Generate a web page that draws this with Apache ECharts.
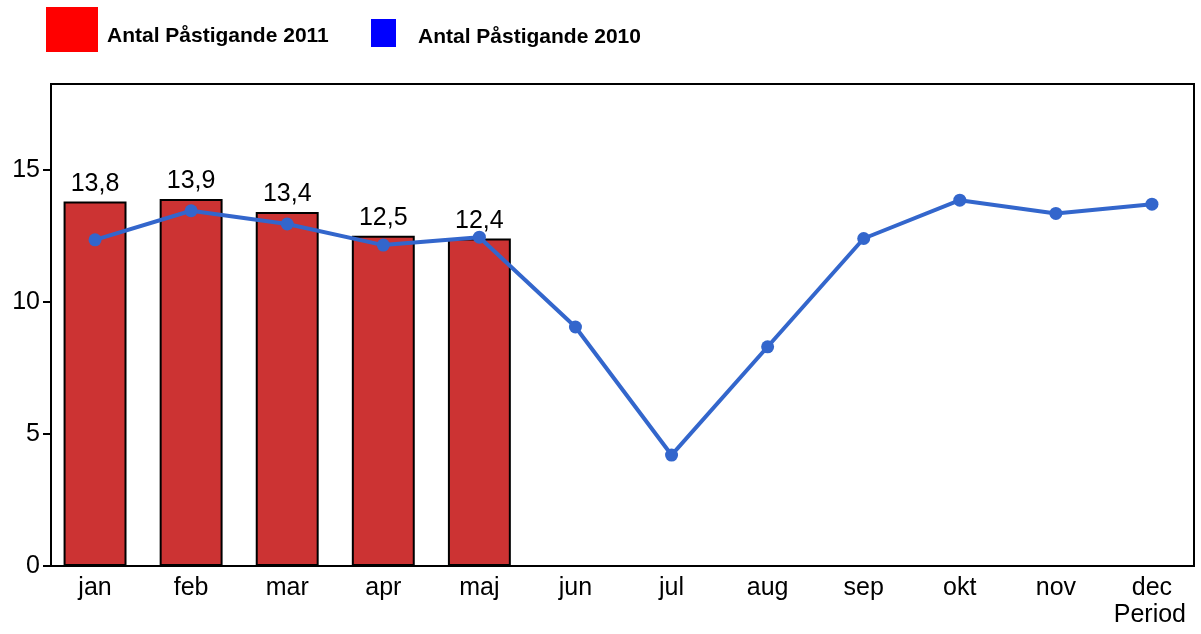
<!DOCTYPE html>
<html>
<head>
<meta charset="utf-8">
<script src="https://cdn.jsdelivr.net/npm/echarts@6/dist/echarts.min.js"></script>
<style>
  html, body { margin: 0; padding: 0; background: #fff; }
  #chart { width: 1201px; height: 634px; }
</style>
</head>
<body>
<div id="chart"></div>
<script>
const months = ['jan', 'feb', 'mar', 'apr', 'maj', 'jun', 'jul', 'aug', 'sep', 'okt', 'nov', 'dec']
const pass2011 = [13.8, 13.9, 13.4, 12.5, 12.4]
const pass2010 = [12.35, 13.45, 12.95, 12.15, 12.45, 9.05, 4.2, 8.3, 12.4, 13.85, 13.35, 13.7]
const yTicks = [0, 5, 10, 15]
const yMax = 18.25

const font = 'Liberation Sans, Arial, sans-serif'
const chart = echarts.init(document.getElementById('chart'))

function legendText(shiftDown, gap) {
  return {
    fontFamily: font,
    fontWeight: 'bold',
    fontSize: 21,
    color: '#000',
    rich: {
      t: {
        fontFamily: font,
        fontWeight: 'bold',
        fontSize: 21,
        color: '#000',
        padding: [shiftDown * 2, 0, 0, gap],
      },
    },
  }
}

chart.setOption({
  backgroundColor: '#fff',
  animation: false,
  textStyle: { fontFamily: font },
  legend: [
    {
      left: 41,
      top: 2,
      itemWidth: 52,
      itemHeight: 45,
      icon: 'rect',
      formatter: '{t|{name}}',
      textStyle: legendText(7, 4),
      data: [{ name: 'Antal Påstigande 2011', itemStyle: { color: '#ff0000', borderWidth: 0 } }],
    },
    {
      left: 366,
      top: 14,
      itemWidth: 25,
      itemHeight: 28,
      icon: 'rect',
      formatter: '{t|{name}}',
      textStyle: legendText(4, 17),
      data: [{ name: 'Antal Påstigande 2010', itemStyle: { color: '#0000ff', borderWidth: 0 } }],
    },
  ],
  grid: [
    // data grid: categories spread a bit wider than the framed box
    { left: 47, right: 1, top: 84, bottom: 68 },
    // framed box with the value axis
    { left: 51, right: 7, top: 84, bottom: 68, show: true, borderColor: '#000', borderWidth: 2 },
  ],
  xAxis: [
    {
      gridIndex: 0,
      type: 'category',
      data: months,
      axisLine: { show: false },
      axisTick: { show: false },
      axisLabel: { color: '#000', fontSize: 25, margin: 10 },
    },
    {
      gridIndex: 1,
      type: 'category',
      data: months,
      name: 'Period',
      nameLocation: 'end',
      nameGap: -8,
      nameTextStyle: {
        color: '#000',
        fontSize: 25,
        align: 'right',
        verticalAlign: 'top',
        padding: [37, 0, 0, 0],
      },
      axisLine: { lineStyle: { color: '#000', width: 2 } },
      axisTick: { show: false },
      axisLabel: { show: false },
    },
  ],
  yAxis: [
    {
      gridIndex: 0,
      type: 'value',
      min: 0,
      max: yMax,
      show: false,
    },
    {
      gridIndex: 1,
      type: 'value',
      min: 0,
      max: yMax,
      interval: 5,
      axisLine: { show: true, lineStyle: { color: '#000', width: 2 } },
      axisTick: { show: true, length: 8, lineStyle: { color: '#000', width: 2 } },
      axisLabel: {
        color: '#000',
        fontSize: 25,
        margin: 11,
        showMaxLabel: false,
        formatter: v => (yTicks.includes(v) ? String(v) : ''),
      },
      splitLine: { show: false },
    },
  ],
  series: [
    {
      name: 'Antal Påstigande 2011',
      type: 'bar',
      xAxisIndex: 0,
      yAxisIndex: 0,
      data: pass2011,
      barWidth: '65.5%',
      itemStyle: { color: '#cc3333', borderColor: '#000', borderWidth: 2 },
      label: {
        show: true,
        position: 'top',
        distance: 5,
        color: '#000',
        fontSize: 25,
        formatter: p => String(p.value).replace('.', ','),
      },
    },
    {
      name: 'Antal Påstigande 2010',
      type: 'line',
      xAxisIndex: 0,
      yAxisIndex: 0,
      data: pass2010,
      symbol: 'circle',
      symbolSize: 13,
      itemStyle: { color: '#3366cc' },
      lineStyle: { color: '#3366cc', width: 4 },
      z: 3,
    },
  ],
})
</script>
</body>
</html>
